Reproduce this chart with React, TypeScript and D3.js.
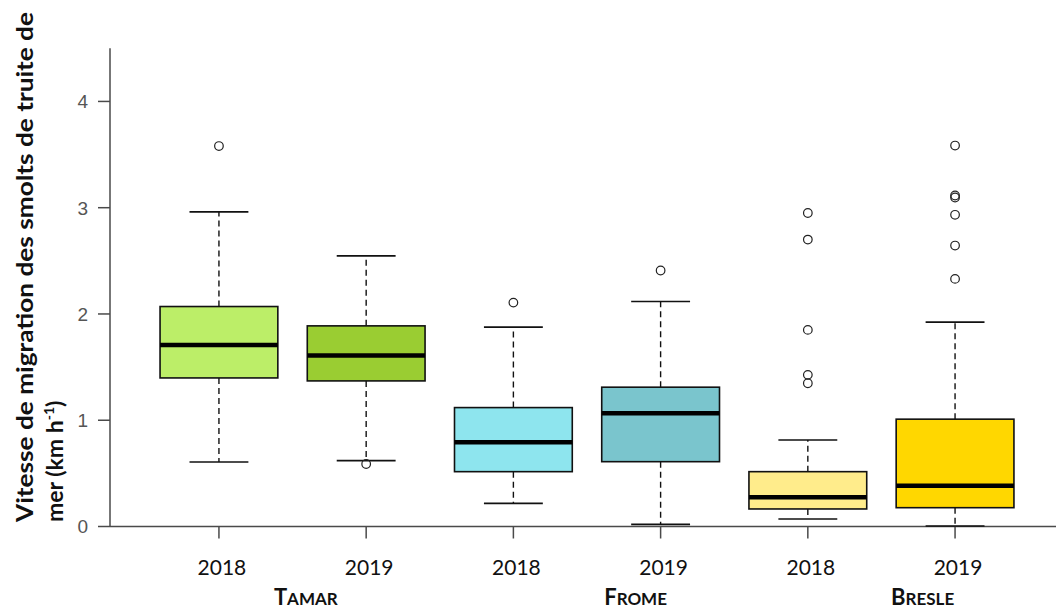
import React from "react";
import * as d3 from "d3";

// Smolt migration speed (km/h) per river and year
const years = ["2018", "2019", "2018", "2019", "2018", "2019"];
const rivers = ["TAMAR", "FROME", "BRESLE"];
const riverLabelAt = [1.59, 3.83, 5.78];
const boxColors = ["#BCEE68", "#9ACD32", "#8EE5EE", "#7AC5CD", "#FFEC8B", "#FFD700"];

const lowerWhisker = [0.607, 0.62, 0.218, 0.02, 0.07, 0.005];
const q1 = [1.398, 1.37, 0.516, 0.61, 0.165, 0.177];
const median = [1.709, 1.608, 0.793, 1.066, 0.275, 0.384];
const q3 = [2.07, 1.888, 1.119, 1.311, 0.516, 1.01];
const upperWhisker = [2.961, 2.547, 1.876, 2.117, 0.814, 1.923];
const outliers = [
  [3.58],
  [0.588],
  [2.107],
  [2.409],
  [2.95, 2.7, 1.85, 1.427, 1.348],
  [3.585, 3.115, 3.096, 2.933, 2.644, 2.33],
];
const yTicks = [0, 1, 2, 3, 4];

const W = 1056;
const H = 609;

export default function App() {
  const x = d3.scaleLinear().domain([0.26, 6.74]).range([110, 1064]);
  const y = d3.scaleLinear().domain([0, 4.5]).range([526.5, 48.3]);
  const boxW = x(1.8) - x(1);
  const capW = boxW / 2;
  const axisColor = "#4a4a4a";

  return (
    <svg
      width={W}
      height={H}
      style={{ position: "absolute", left: 0, top: 0, background: "#fff" }}
      fontFamily="Lato, 'Open Sans', sans-serif"
    >
      <rect width={W} height={H} fill="#fff" />
      {/* axes */}
      <line x1={x(0.26)} x2={x(0.26)} y1={y(4.5)} y2={y(0)} stroke={axisColor} strokeWidth={1.5} />
      <line x1={x(0.26)} x2={W} y1={y(0)} y2={y(0)} stroke={axisColor} strokeWidth={1.5} />
      {yTicks.map((t) => (
        <g key={"yt" + t}>
          <line x1={x(0.26) - 12} x2={x(0.26)} y1={y(t)} y2={y(t)} stroke={axisColor} strokeWidth={1.5} />
          <text
            x={88}
            y={y(t)}
            dy="0.36em"
            textAnchor="end"
            fontFamily="'Liberation Sans', Arial, sans-serif"
            fontSize={19}
            fill="#555"
          >
            {t}
          </text>
        </g>
      ))}
      {years.map((yr, i) => (
        <g key={"xt" + i}>
          <line x1={x(i + 1)} x2={x(i + 1)} y1={y(0)} y2={y(0) + 12} stroke={axisColor} strokeWidth={1.5} />
          <text x={x(i + 1) + 3} y={575} textAnchor="middle" fontSize={21} fill="#111">
            {yr}
          </text>
        </g>
      ))}
      {rivers.map((r, i) => (
        <text key={r} x={x(riverLabelAt[i])} y={605} textAnchor="middle" fontWeight="bold" fill="#111">
          <tspan fontSize={22}>{r[0]}</tspan>
          <tspan fontSize={17}>{r.slice(1)}</tspan>
        </text>
      ))}

      {/* boxes */}
      {years.map((_, i) => {
        const cx = x(i + 1);
        return (
          <g key={"box" + i}>
            <line x1={cx} x2={cx} y1={y(q3[i])} y2={y(upperWhisker[i])} stroke="#111" strokeWidth={1.4} strokeDasharray="6,4" />
            <line x1={cx} x2={cx} y1={y(q1[i])} y2={y(lowerWhisker[i])} stroke="#111" strokeWidth={1.4} strokeDasharray="6,4" />
            <line x1={cx - capW / 2} x2={cx + capW / 2} y1={y(upperWhisker[i])} y2={y(upperWhisker[i])} stroke="#111" strokeWidth={1.6} />
            <line x1={cx - capW / 2} x2={cx + capW / 2} y1={y(lowerWhisker[i])} y2={y(lowerWhisker[i])} stroke="#111" strokeWidth={1.6} />
            <rect
              x={cx - boxW / 2}
              y={y(q3[i])}
              width={boxW}
              height={y(q1[i]) - y(q3[i])}
              fill={boxColors[i]}
              stroke="#111"
              strokeWidth={1.6}
            />
            <line x1={cx - boxW / 2} x2={cx + boxW / 2} y1={y(median[i])} y2={y(median[i])} stroke="#000" strokeWidth={4.5} />
            {outliers[i].map((o, j) => (
              <circle key={j} cx={cx} cy={y(o)} r={4.3} fill="none" stroke="#222" strokeWidth={1.2} />
            ))}
          </g>
        );
      })}

      {/* y-axis title */}
      <g transform="translate(33,522) rotate(-90)">
        <text x={0} y={0} fontWeight="bold" fontSize={23} fill="#111" textLength={510} lengthAdjust="spacingAndGlyphs">
          Vitesse de migration des smolts de truite de
        </text>
        <text x={0} y={30} fontWeight="bold" fontSize={23} fill="#111">
          mer (km h
          <tspan fontSize={14} dy={-9}>-1</tspan>
          <tspan dy={9}>)</tspan>
        </text>
      </g>
    </svg>
  );
}
